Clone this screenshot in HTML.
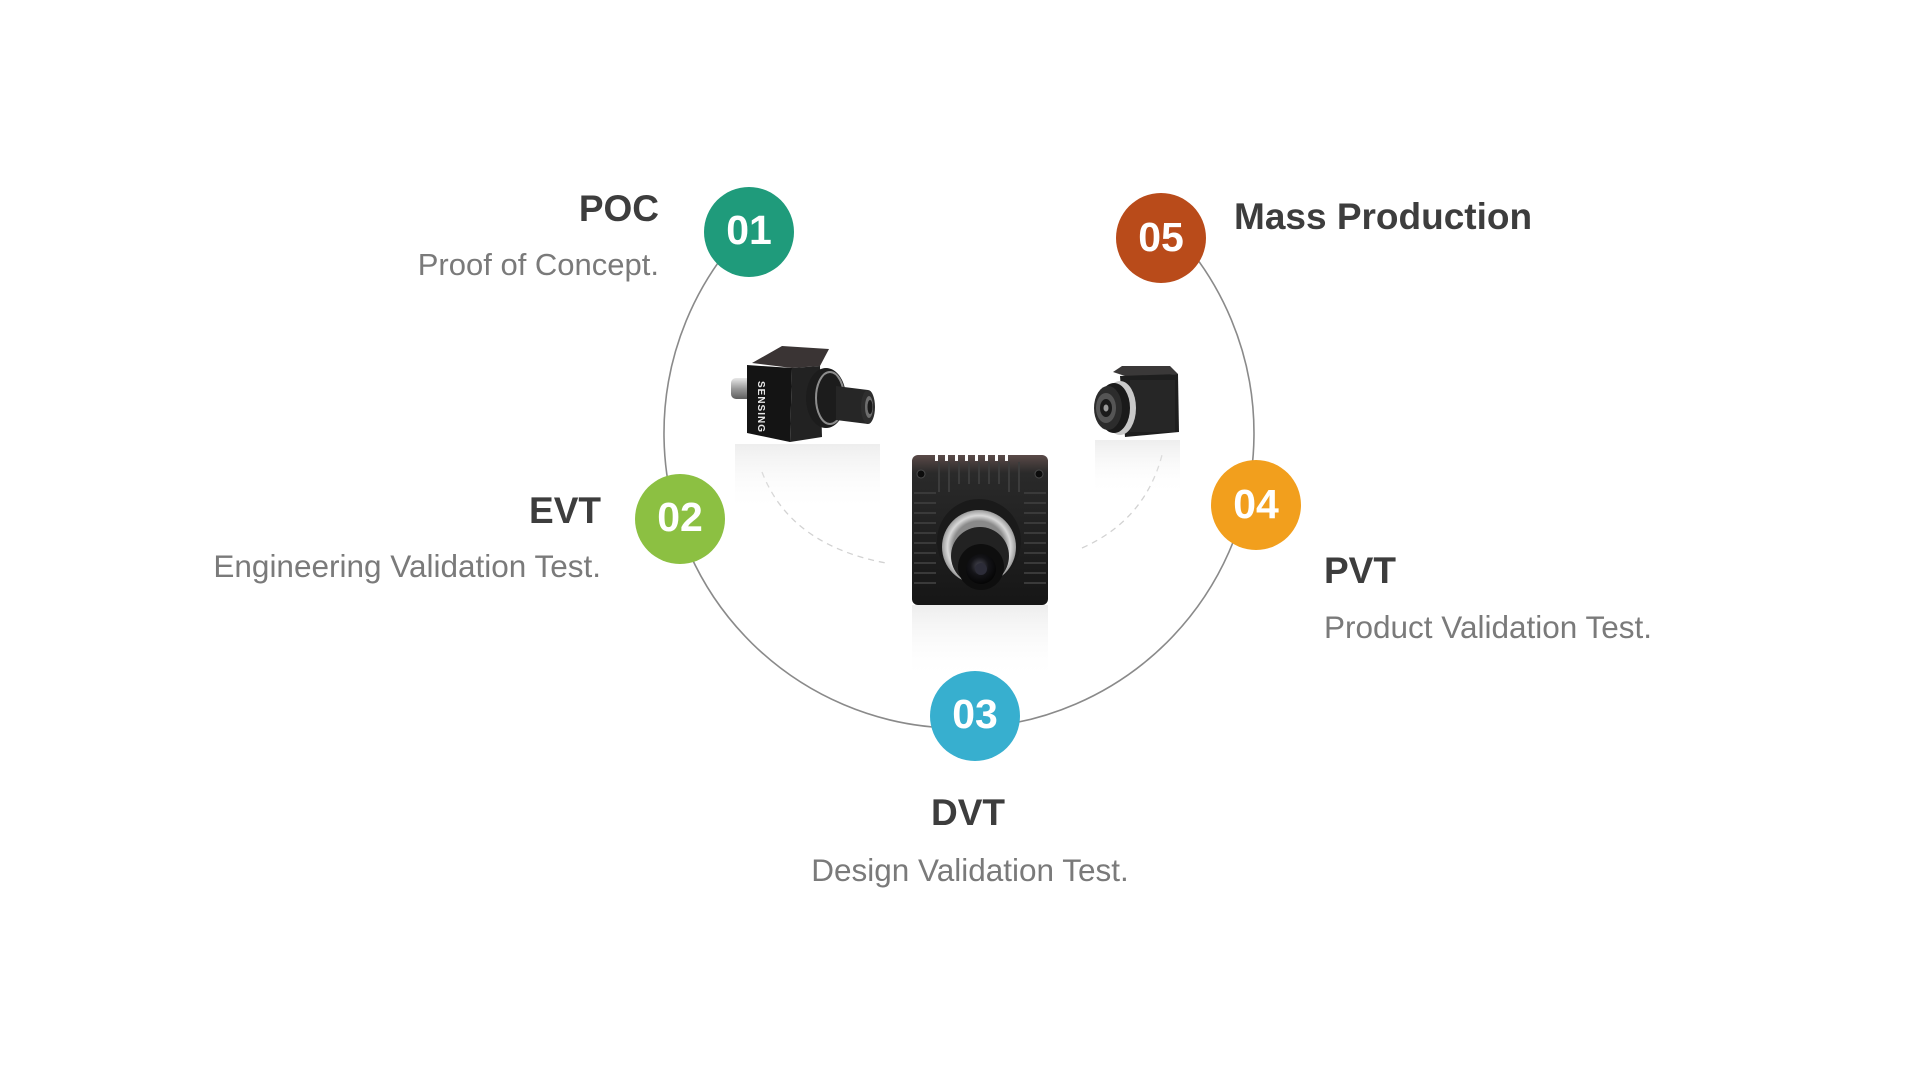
<!DOCTYPE html>
<html>
<head>
<meta charset="utf-8">
<style>
  html,body{margin:0;padding:0;background:#ffffff;}
  body{width:1920px;height:1079px;overflow:hidden;}
  svg{display:block;}
  .h{font-family:"Liberation Sans",Arial,sans-serif;font-weight:bold;font-size:37px;fill:#3d3d3d;}
  .s{font-family:"Liberation Sans",Arial,sans-serif;font-size:31.5px;fill:#7a7a7a;}
  .n{font-family:"Liberation Sans",Arial,sans-serif;font-weight:bold;font-size:41px;fill:#ffffff;}
</style>
</head>
<body>
<svg width="1920" height="1079" viewBox="0 0 1920 1079" xmlns="http://www.w3.org/2000/svg">
  <defs>
    <linearGradient id="refl" x1="0" y1="0" x2="0" y2="1">
      <stop offset="0" stop-color="#e2e2e2" stop-opacity="0.6"/>
      <stop offset="1" stop-color="#ffffff" stop-opacity="0"/>
    </linearGradient>
    <linearGradient id="silver" x1="0" y1="0" x2="0" y2="1">
      <stop offset="0" stop-color="#e8e8e8"/>
      <stop offset="0.5" stop-color="#9a9a9a"/>
      <stop offset="1" stop-color="#5e5e5e"/>
    </linearGradient>
    <linearGradient id="bodytop" x1="0" y1="0" x2="0" y2="1">
      <stop offset="0" stop-color="#5a4a48"/>
      <stop offset="0.12" stop-color="#2a2a2a"/>
      <stop offset="1" stop-color="#161616"/>
    </linearGradient>
    <radialGradient id="glass" cx="0.45" cy="0.4" r="0.6">
      <stop offset="0" stop-color="#4a4a55"/>
      <stop offset="0.5" stop-color="#141418"/>
      <stop offset="1" stop-color="#050505"/>
    </radialGradient>
    <radialGradient id="ring" cx="0.5" cy="0.5" r="0.5">
      <stop offset="0.7" stop-color="#8a8a8a"/>
      <stop offset="0.85" stop-color="#d9d9d9"/>
      <stop offset="1" stop-color="#9a9a9a"/>
    </radialGradient>
  </defs>

  <!-- main ring -->
  <path d="M 746 229 A 295 295 0 1 0 1171 228" fill="none" stroke="#8a8a8a" stroke-width="1.6"/>

  <!-- dashed inner arcs -->
  <path d="M 762 472 Q 790 545 886 563" fill="none" stroke="#d2d2d2" stroke-width="1.3" stroke-dasharray="6 5"/>
  <path d="M 1082 548 Q 1145 520 1162 455" fill="none" stroke="#d2d2d2" stroke-width="1.3" stroke-dasharray="6 5"/>

  <!-- ===== Left camera ===== -->
  <rect x="735" y="444" width="145" height="68" fill="url(#refl)"/>
  <rect x="731" y="378" width="22" height="21" rx="5" fill="url(#silver)"/>
  <polygon points="752,363 782,346 829,349 820,366 792,368" fill="#3a3434"/>
  <polygon points="747,365 792,368 790,442 747,433" fill="#141414"/>
  <polygon points="792,368 820,366 822,437 790,442" fill="#222222"/>
  <text x="0" y="0" transform="translate(758,381) rotate(90)" font-family="Liberation Sans,Arial,sans-serif" font-weight="bold" font-size="10" fill="#e8e8e8" letter-spacing="1">SENSING</text>
  <ellipse cx="826" cy="398" rx="20" ry="30" fill="#1c1c1c"/>
  <ellipse cx="830" cy="398" rx="14" ry="26" fill="none" stroke="#8d8d8d" stroke-width="2"/>
  <polygon points="836,386 868,390 868,424 836,420" fill="#262626"/>
  <ellipse cx="868" cy="407" rx="7" ry="17" fill="#2e2e2e"/>
  <ellipse cx="869" cy="407" rx="4" ry="11" fill="#6e6e6e"/>
  <ellipse cx="870" cy="407" rx="2.5" ry="7" fill="#1a1a1a"/>

  <!-- ===== Right camera ===== -->
  <rect x="1095" y="440" width="85" height="55" fill="url(#refl)"/>
  <polygon points="1113,372 1122,366 1170,366 1178,374 1128,377" fill="#3a3838"/>
  <polygon points="1120,376 1178,374 1179,432 1125,437" fill="#1e1e1e"/>
  <rect x="1130" y="380" width="45" height="52" fill="#262626"/>
  <ellipse cx="1120" cy="408" rx="16" ry="27" fill="#c9c9c9"/>
  <ellipse cx="1114" cy="408" rx="16" ry="25" fill="#1a1a1a"/>
  <ellipse cx="1108" cy="408" rx="14" ry="22" fill="#2c2c2c"/>
  <ellipse cx="1106" cy="408" rx="10" ry="15" fill="#555555"/>
  <ellipse cx="1106" cy="408" rx="6" ry="9" fill="#1a1a1a"/>
  <ellipse cx="1106" cy="408" rx="2.5" ry="3.5" fill="#999999"/>

  <!-- ===== Center camera ===== -->
  <rect x="912" y="605" width="136" height="75" fill="url(#refl)"/>
  <rect x="912" y="455" width="136" height="150" rx="6" fill="url(#bodytop)"/>
  <g fill="#ffffff">
    <rect x="935" y="455" width="3" height="6"/>
    <rect x="945" y="455" width="3" height="6"/>
    <rect x="955" y="455" width="3" height="6"/>
    <rect x="965" y="455" width="3" height="6"/>
    <rect x="975" y="455" width="3" height="6"/>
    <rect x="985" y="455" width="3" height="6"/>
    <rect x="995" y="455" width="3" height="6"/>
    <rect x="1005" y="455" width="3" height="6"/>
  </g>
  <g fill="#3c3c3c">
    <rect x="938" y="462" width="2" height="30"/>
    <rect x="948" y="462" width="2" height="30"/>
    <rect x="958" y="462" width="2" height="22"/>
    <rect x="968" y="462" width="2" height="22"/>
    <rect x="978" y="462" width="2" height="22"/>
    <rect x="988" y="462" width="2" height="22"/>
    <rect x="998" y="462" width="2" height="22"/>
    <rect x="1008" y="462" width="2" height="30"/>
    <rect x="1018" y="462" width="2" height="30"/>
  </g>
  <g fill="#3a3a3a">
    <rect x="914" y="492" width="22" height="2"/>
    <rect x="914" y="502" width="22" height="2"/>
    <rect x="914" y="512" width="22" height="2"/>
    <rect x="914" y="522" width="22" height="2"/>
    <rect x="914" y="532" width="22" height="2"/>
    <rect x="914" y="542" width="22" height="2"/>
    <rect x="914" y="552" width="22" height="2"/>
    <rect x="914" y="562" width="22" height="2"/>
    <rect x="914" y="572" width="22" height="2"/>
    <rect x="914" y="582" width="22" height="2"/>
    <rect x="1024" y="492" width="22" height="2"/>
    <rect x="1024" y="502" width="22" height="2"/>
    <rect x="1024" y="512" width="22" height="2"/>
    <rect x="1024" y="522" width="22" height="2"/>
    <rect x="1024" y="532" width="22" height="2"/>
    <rect x="1024" y="542" width="22" height="2"/>
    <rect x="1024" y="552" width="22" height="2"/>
    <rect x="1024" y="562" width="22" height="2"/>
    <rect x="1024" y="572" width="22" height="2"/>
    <rect x="1024" y="582" width="22" height="2"/>
  </g>
  <circle cx="921" cy="474" r="4" fill="#0c0c0c" stroke="#4a4a4a" stroke-width="1"/>
  <circle cx="1039" cy="474" r="4" fill="#0c0c0c" stroke="#4a4a4a" stroke-width="1"/>
  <circle cx="979" cy="541" r="42" fill="#1a1a1a"/>
  <circle cx="979" cy="547" r="37" fill="url(#ring)"/>
  <circle cx="980" cy="556" r="29" fill="#222222"/>
  <circle cx="981" cy="567" r="23" fill="#0e0e0e"/>
  <circle cx="981" cy="569" r="15" fill="url(#glass)"/>
  <circle cx="981" cy="569" r="6" fill="#2c2c38"/>

  <!-- ===== Numbered circles ===== -->
  <circle cx="749" cy="232" r="45" fill="#1f9b7b"/>
  <text class="n" x="749" y="244" text-anchor="middle">01</text>

  <circle cx="680" cy="519" r="45" fill="#8cc042"/>
  <text class="n" x="680" y="531" text-anchor="middle">02</text>

  <circle cx="975" cy="716" r="45" fill="#37afcf"/>
  <text class="n" x="975" y="728" text-anchor="middle">03</text>

  <circle cx="1256" cy="505" r="45" fill="#f29f1d"/>
  <text class="n" x="1256" y="518" text-anchor="middle">04</text>

  <circle cx="1161" cy="238" r="45" fill="#b94b1a"/>
  <text class="n" x="1161" y="251" text-anchor="middle">05</text>

  <!-- ===== Labels ===== -->
  <text class="h" x="659" y="221" text-anchor="end">POC</text>
  <text class="s" x="659" y="275" text-anchor="end" style="font-size:31px">Proof of Concept.</text>

  <text class="h" x="1234" y="229">Mass Production</text>

  <text class="h" x="601" y="523" text-anchor="end">EVT</text>
  <text class="s" x="601" y="577" text-anchor="end">Engineering Validation Test.</text>

  <text class="h" x="1324" y="583">PVT</text>
  <text class="s" x="1324" y="638">Product Validation Test.</text>

  <text class="h" x="968" y="825" text-anchor="middle">DVT</text>
  <text class="s" x="970" y="881" text-anchor="middle">Design Validation Test.</text>
</svg>
</body>
</html>
